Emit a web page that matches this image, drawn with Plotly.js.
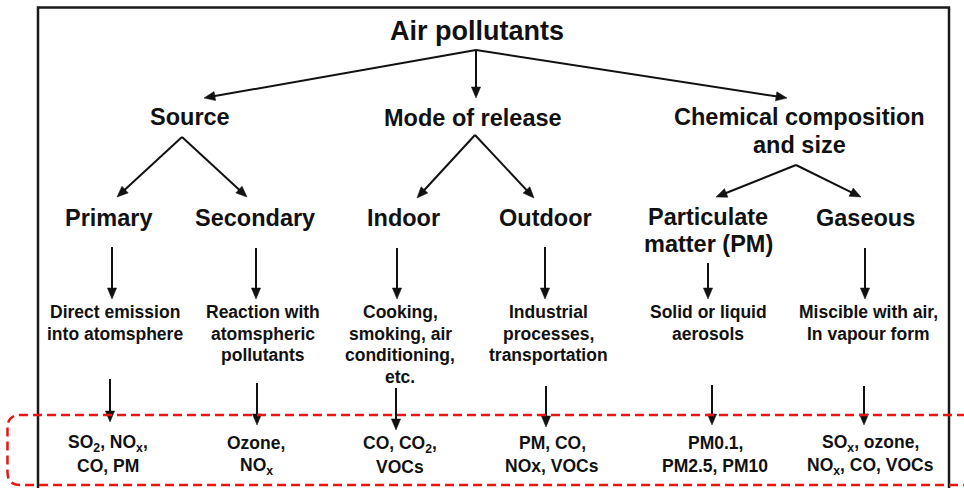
<!DOCTYPE html>
<html>
<head>
<meta charset="utf-8">
<script src="https://cdn.plot.ly/plotly-3.0.1.min.js"></script>
<style>html,body{margin:0;padding:0;background:#fff;}#chart{width:964px;height:488px;}</style>
</head>
<body>
<div id="chart"></div>
<script>
// ---- Data (text content of the tree) ----
const rootLabel = 'Air pollutants';
const groupLabels = ['Source', 'Mode of release', 'Chemical composition<br>and size'];
const typeLabels = ['Primary', 'Secondary', 'Indoor', 'Outdoor', 'Particulate<br>matter (PM)', 'Gaseous'];
const typeParent = [0, 0, 1, 1, 2, 2];
const descLabels = [
  'Direct emission<br>into atomsphere',
  'Reaction with<br>atomspheric<br>pollutants',
  'Cooking,<br>smoking, air<br>conditioning,<br>etc.',
  'Industrial<br>processes,<br>transportation',
  'Solid or liquid<br>aerosols',
  'Miscible with air,<br>In vapour form'
];
const exampleLabels = [
  'SO<sub>2</sub>, NO<sub>x</sub>,<br>CO, PM',
  'Ozone,<br>NO<sub>x</sub>',
  'CO, CO<sub>2</sub>,<br>VOCs',
  'PM, CO,<br>NOx, VOCs',
  'PM0.1,<br>PM2.5, PM10',
  'SO<sub>x</sub>, ozone,<br>NO<sub>x</sub>, CO, VOCs'
];

// ---- Layout (pixel positions in the 964x488 canvas) ----
const FONT = 'Liberation Sans, Arial, Helvetica, sans-serif';
const INK = '#111111';
const rootPos = {x: 477, y: 31};
const rootArrowFrom = {x: 476, y: 50};
const groupArrowTips = [{x: 204, y: 98}, {x: 476, y: 98}, {x: 787, y: 98}];
const groupPos = [{x: 190, y: 117}, {x: 473, y: 118}, {x: 799, y: 117}];
const groupApex = [{x: 182, y: 137}, {x: 475, y: 135}, {x: 796, y: 165}];
const typeTips = [{x: 117, y: 197}, {x: 247, y: 197}, {x: 417, y: 198}, {x: 534, y: 198}, {x: 716, y: 197}, {x: 861, y: 197}];
const typeX = [109, 255, 403, 545, 708, 865];
const typeY = 217;
const typeArrowX = [112, 256, 397, 545, 708, 865];
const typeArrowY0 = [247, 248, 248, 247, 263, 248];
const typeArrowY1 = 299;
const descX = [115, 263, 400, 548, 708, 868];
const descY = 312;
const exArrowX = [110, 257, 396, 546, 712, 864];
const exArrowY0 = [379, 383, 388, 386, 385, 386];
const exArrowY1 = [422, 425, 430, 427, 425, 425];
const exX = [108, 256, 400, 552, 715, 870];
const exY = 443;

const annotations = [];
const shapes = [];

function textLines(label, x, y0, dy, size) {
  label.split('<br>').forEach((line, i) => {
    annotations.push({
      x: x, y: y0 + i * dy, xref: 'x', yref: 'y',
      text: line, showarrow: false, xanchor: 'center', yanchor: 'middle',
      font: {family: FONT, size: size, color: INK, weight: 700}
    });
  });
}
// arrow drawn as a line plus a filled triangular head
const HEAD_L = 11, HEAD_W = 4.6;
function arrow(x0, y0, x1, y1) {
  const dx = x1 - x0, dy = y1 - y0, len = Math.hypot(dx, dy);
  const ux = dx / len, uy = dy / len, px = -uy, py = ux;
  const bx = x1 - ux * HEAD_L, by = y1 - uy * HEAD_L;
  shapes.push({type: 'line', xref: 'x', yref: 'y', x0: x0, y0: y0, x1: bx + ux * 1.5, y1: by + uy * 1.5,
    line: {color: INK, width: 2}});
  shapes.push({type: 'path', xref: 'x', yref: 'y',
    path: `M${x1},${y1} L${bx + px * HEAD_W},${by + py * HEAD_W} L${bx - px * HEAD_W},${by - py * HEAD_W} Z`,
    fillcolor: INK, line: {color: INK, width: 0.5}});
}

// root
textLines(rootLabel, rootPos.x, rootPos.y, 28, 27);
groupArrowTips.forEach(t => arrow(rootArrowFrom.x, rootArrowFrom.y, t.x, t.y));
// groups
groupLabels.forEach((g, i) => textLines(g, groupPos[i].x, groupPos[i].y, 28, 23.5));
// types
typeLabels.forEach((t, i) => {
  const p = groupApex[typeParent[i]];
  arrow(p.x, p.y, typeTips[i].x, typeTips[i].y);
  textLines(t, typeX[i], typeY + (i === 4 ? 0 : 1), 27, 23.5);
  arrow(typeArrowX[i], typeArrowY0[i], typeArrowX[i], typeArrowY1);
});
// descriptions
descLabels.forEach((d, i) => textLines(d, descX[i], descY, 21.5, 17.5));
// examples
exampleLabels.forEach((e, i) => {
  arrow(exArrowX[i], exArrowY0[i], exArrowX[i], exArrowY1[i]);
  textLines(e, exX[i], exY + (i === 2 ? 1 : 0), 23, 17.5);
});

// frame
shapes.push({type: 'path', xref: 'x', yref: 'y',
  path: 'M38,492 L38,7.5 L949,7.5 L949,492',
  line: {color: '#1a1a1a', width: 2.5}});
// red dashed highlight
const r = 13, bx0 = 7.5, by0 = 415, by1 = 485, bx1 = 980;
shapes.push({type: 'path', xref: 'x', yref: 'y',
  path: `M${bx1},${by0} L${bx0 + r},${by0} Q${bx0},${by0} ${bx0},${by0 + r} L${bx0},${by1 - r} Q${bx0},${by1} ${bx0 + r},${by1} L${bx1},${by1}`,
  line: {color: 'rgb(235,20,20)', width: 2.5, dash: '9px,5px'}});

const layout = {
  width: 964, height: 488,
  margin: {l: 0, r: 0, t: 0, b: 0},
  paper_bgcolor: '#ffffff', plot_bgcolor: '#ffffff',
  xaxis: {range: [0, 964], visible: false, fixedrange: true},
  yaxis: {range: [488, 0], visible: false, fixedrange: true},
  showlegend: false,
  annotations: annotations,
  shapes: shapes
};
Plotly.newPlot('chart', [], layout, {staticPlot: true, displayModeBar: false});
</script>
</body>
</html>
